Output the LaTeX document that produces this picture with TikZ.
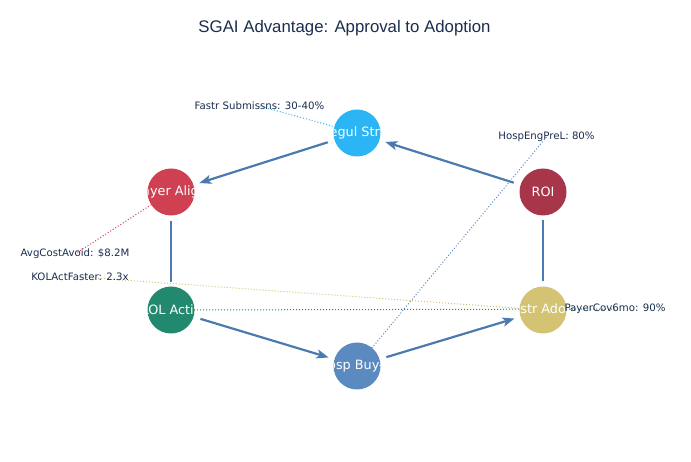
\documentclass[tikz,border=0pt]{standalone}
\usepackage{fontspec}
\setmainfont{DejaVu Sans}
\newfontfamily\titlefont{Liberation Sans}
\usetikzlibrary{arrows.meta,backgrounds}
\definecolor{cregul}{HTML}{2BB5F5}
\definecolor{cpayer}{HTML}{CF4152}
\definecolor{croi}{HTML}{A8364A}
\definecolor{ckol}{HTML}{23896E}
\definecolor{chosp}{HTML}{5B8AC0}
\definecolor{cdistr}{HTML}{D4C372}
\definecolor{carrow}{HTML}{4A7AB0}
\definecolor{cnavy}{HTML}{1B2E4F}
\tikzset{
  stage/.style={circle, draw=none, minimum size=47pt, inner sep=0pt, fill=#1},
  stagetext/.style={text=white, font=\fontsize{12.8}{14}\selectfont, inner sep=0pt},
  flow/.style={draw=carrow, line width=2.2pt, shorten <=7pt, shorten >=6pt,
    -{Stealth[length=12pt,width=9pt,inset=3pt]}},
  plainflow/.style={draw=carrow, line width=2.2pt, shorten <=5pt, shorten >=4pt},
  metric/.style={text=cnavy, font=\fontsize{10.2}{12}\selectfont, inner sep=0pt},
  dotlink/.style={line width=1pt, dash pattern=on 1pt off 2pt, draw=#1}
}
\newcommand{\stagenode}[5]{%
  \node[stage=#4, path picture={\node[stagetext] at (path picture bounding box.center) {#5};}] (#1) at (#2,#3) {};}
\begin{document}
\begin{tikzpicture}[x=1pt,y=-1pt]
\useasboundingbox (0,0) rectangle (691,462);
\node[text=cnavy, font=\titlefont\fontsize{16.8}{19}\selectfont] (title) at (344.5,28) {SGAI Advantage: Approval to Adoption};
% stages
\stagenode{regul}{357}{133}{cregul}{Regul Strat}
\stagenode{payer}{171}{192}{cpayer}{Payer Align}
\stagenode{roi}{543}{192}{croi}{ROI}
\stagenode{kol}{171}{310}{ckol}{KOL Activ}
\stagenode{hosp}{357}{366}{chosp}{Hosp Buy-in}
\stagenode{distr}{543}{310}{cdistr}{Distr Adopt}
% metric labels
\node[metric] (m1) at (259.5,106) {Fastr Submissns: 30-40\%};
\node[metric] (m2) at (546.5,137) {HospEngPreL: 80\%};
\node[metric] (m3) at (75,254) {AvgCostAvoid: \$8.2M};
\node[metric] (m4) at (80,277) {KOLActFaster: 2.3x};
\node[metric] (m5) at (615,309) {PayerCov6mo: 90\%};
\begin{pgfonlayer}{background}
  \fill[white] (0,0) rectangle (691,462);
  \draw[dotlink=cregul] (m1.center) -- (regul.center);
  \draw[dotlink=chosp] (m2.center) -- (hosp.center);
  \draw[dotlink=cpayer] (m3.center) -- (payer.center);
  \draw[dotlink=cdistr] (m4.center) -- (distr.center);
  \draw[dotlink=ckol] (m5.center) -- (kol.center);
  % flow arrows
  \draw[flow] (roi) -- (regul);
  \draw[flow] (regul) -- (payer);
  \draw[plainflow] (payer) -- (kol);
  \draw[flow] (kol) -- (hosp);
  \draw[flow] (hosp) -- (distr);
  \draw[plainflow] (distr) -- (roi);
\end{pgfonlayer}
\end{tikzpicture}
\end{document}
